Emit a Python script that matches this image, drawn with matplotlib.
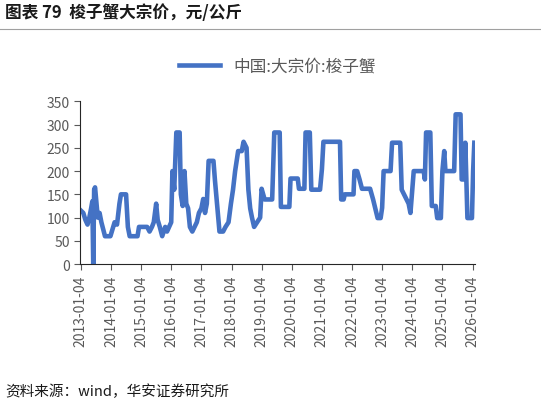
import matplotlib
matplotlib.use('Agg')
import matplotlib.pyplot as plt
import pandas as pd

plt.rcParams['font.family'] = ['Noto Sans CJK SC', 'DejaVu Sans']

# decimal years and prices (yuan/kg)
years = [2013.0, 2013.08, 2013.15, 2013.22, 2013.28, 2013.34, 2013.38, 2013.41, 2013.44, 2013.47,
         2013.52, 2013.56, 2013.62, 2013.68, 2013.74, 2013.8, 2013.98, 2014.05, 2014.12, 2014.2,
         2014.28, 2014.33, 2014.5, 2014.56, 2014.62, 2014.88, 2014.93, 2015.2, 2015.28, 2015.36,
         2015.42, 2015.5, 2015.55, 2015.62, 2015.7, 2015.8, 2015.86, 2015.93, 2016.0, 2016.04,
         2016.1, 2016.17, 2016.28, 2016.32, 2016.38, 2016.44, 2016.5, 2016.56, 2016.62, 2016.7,
         2016.85, 2016.92, 2017.0, 2017.06, 2017.12, 2017.18, 2017.24, 2017.4, 2017.45, 2017.6,
         2017.72, 2017.8, 2017.9, 2017.98, 2018.05, 2018.12, 2018.22, 2018.34, 2018.4, 2018.5,
         2018.56, 2018.62, 2018.68, 2018.75, 2018.85, 2018.95, 2019.0, 2019.1, 2019.35, 2019.42,
         2019.6, 2019.64, 2019.92, 2019.96, 2020.2, 2020.24, 2020.42, 2020.46, 2020.6, 2020.65,
         2020.94, 2021.0, 2021.05, 2021.6, 2021.64, 2021.72, 2021.76, 2022.05, 2022.08, 2022.17,
         2022.25, 2022.33, 2022.6, 2022.7, 2022.85, 2022.95, 2023.0, 2023.05, 2023.28, 2023.33,
         2023.6, 2023.65, 2023.78, 2023.88, 2023.94, 2024.05, 2024.1, 2024.38, 2024.42, 2024.46,
         2024.6, 2024.65, 2024.78, 2024.83, 2024.95, 2025.0, 2025.06, 2025.1, 2025.17, 2025.39,
         2025.44, 2025.6, 2025.64, 2025.72, 2025.76, 2025.83, 2025.98, 2026.02, 2026.06]
prices = [115, 110, 95, 85, 100, 120, 135, 0, 160, 165,
          130, 100, 110, 90, 75, 60, 60, 75, 90, 85,
          130, 150, 150, 80, 60, 60, 80, 80, 70, 80,
          90, 130, 95, 80, 60, 80, 70, 80, 90, 200,
          160, 283, 283, 150, 125, 200, 130, 120, 80, 70,
          90, 110, 120, 140, 110, 130, 222, 222, 180, 70,
          70, 80, 90, 130, 160, 200, 243, 243, 263, 250,
          160, 120, 100, 80, 90, 100, 162, 139, 139, 283,
          283, 123, 123, 184, 184, 162, 162, 283, 283, 160,
          160, 204, 263, 263, 139, 139, 150, 150, 200, 200,
          182, 162, 162, 139, 99, 99, 121, 200, 200, 261,
          261, 160, 143, 130, 110, 200, 200, 200, 182, 283,
          283, 125, 125, 99, 99, 200, 243, 200, 200, 200,
          322, 322, 182, 182, 261, 99, 99, 200, 261]
tick_years = list(range(2013, 2027))

def to_date(y):
    return pd.Timestamp(year=int(y), month=1, day=4) + pd.Timedelta(days=(y - int(y)) * 365.25)

dates = [to_date(y) for y in years]
ticks = [pd.Timestamp(year=y, month=1, day=4) for y in tick_years]

fig = plt.figure(figsize=(5.41, 4.06), dpi=100)
ax = fig.add_axes([0.148, 0.347, 0.73, 0.401])
ax.plot(dates, prices, color='#4472C4', linewidth=3.3, label='中国:大宗价:梭子蟹')

ax.set_ylim(0, 350)
ax.set_yticks(range(0, 351, 50))
ax.set_xlim(ticks[0] - pd.Timedelta(days=10), ticks[-1] + pd.Timedelta(days=30))
ax.set_xticks(ticks)
ax.set_xticklabels([t.strftime('%Y-%m-%d') for t in ticks], rotation=90)
ax.tick_params(colors='#595959', labelsize=10, length=4)
for s in ['top', 'right']:
    ax.spines[s].set_visible(False)
for s in ['left', 'bottom']:
    ax.spines[s].set_color('#262626')

ax.legend(loc='lower center', bbox_to_anchor=(0.5, 1.07), frameon=False,
          fontsize=12, handlelength=2.5, labelcolor='#595959')

fig.text(0.01, 0.955, '图表 79  梭子蟹大宗价，元/公斤', fontsize=12, fontweight='bold', color='#1a1a1a')
fig.add_artist(plt.Line2D([0.0, 1.0], [0.925, 0.925], color='#a0a0a0', linewidth=0.8))
fig.text(0.01, 0.025, '资料来源：wind，华安证券研究所', fontsize=10.5, color='#1a1a1a')

fig.savefig('out.png', dpi=100)
